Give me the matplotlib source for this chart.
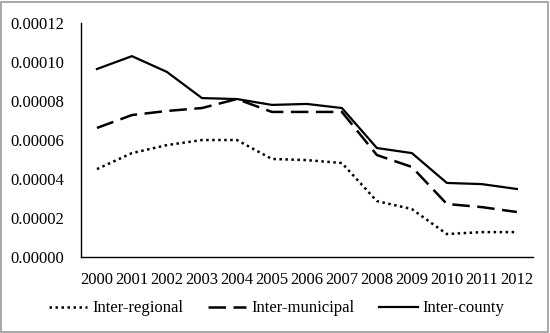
import numpy as np
import matplotlib.pyplot as plt
from matplotlib.patches import Rectangle

years = list(range(2000, 2013))
inter_regional = [0.0000451, 0.0000533, 0.0000574, 0.0000600, 0.0000600, 0.0000503, 0.0000497,
                  0.0000482, 0.0000287, 0.0000246, 0.0000118, 0.0000128, 0.0000128]
inter_municipal = [0.0000662, 0.0000728, 0.0000749, 0.0000764, 0.0000810, 0.0000744, 0.0000744,
                   0.0000744, 0.0000523, 0.0000462, 0.0000272, 0.0000256, 0.0000231]
inter_county = [0.0000964, 0.0001030, 0.0000949, 0.0000815, 0.0000810, 0.0000780, 0.0000785,
                0.0000764, 0.0000559, 0.0000533, 0.0000380, 0.0000374, 0.0000349]
yticks = [0, 0.00002, 0.00004, 0.00006, 0.00008, 0.00010, 0.00012]

plt.rcParams['font.family'] = ['Liberation Serif', 'DejaVu Serif']

fig = plt.figure(figsize=(5.5, 3.33), dpi=100)
ax = fig.add_axes([0.147, 0.228, 0.822, 0.703])

ax.plot(years, inter_regional, color='black', lw=1.8, linestyle=(0, (1, 1.4)), label='Inter-regional')
ax.plot(years, inter_municipal, color='black', lw=1.8, linestyle=(0, (7, 3)), label='Inter-municipal')
ax.plot(years, inter_county, color='black', lw=1.6, linestyle='-', label='Inter-county')

ax.set_xlim(1999.54, 2012.46)
ax.set_ylim(0, 0.00012)
ax.set_xticks(years)
ax.set_xticklabels([str(y) for y in years], fontsize=12)
ax.set_yticks(yticks)
ax.set_yticklabels(['%.5f' % v for v in yticks], fontsize=12)
ax.tick_params(length=0, pad=12)
ax.tick_params(axis='x', pad=11)
for s in ['top', 'right']:
    ax.spines[s].set_visible(False)
for s in ['left', 'bottom']:
    ax.spines[s].set_linewidth(1.0)

fig.legend(loc='center', bbox_to_anchor=(0.503, 0.074), ncol=3, frameon=False, fontsize=12,
           handlelength=2.3, columnspacing=1.5, handletextpad=0.3)

fig.patches.append(Rectangle((0.002, 0.003), 0.994, 0.992, transform=fig.transFigure,
                             fill=False, edgecolor='#999999', lw=1.2))

fig.savefig('out.png', dpi=100)
